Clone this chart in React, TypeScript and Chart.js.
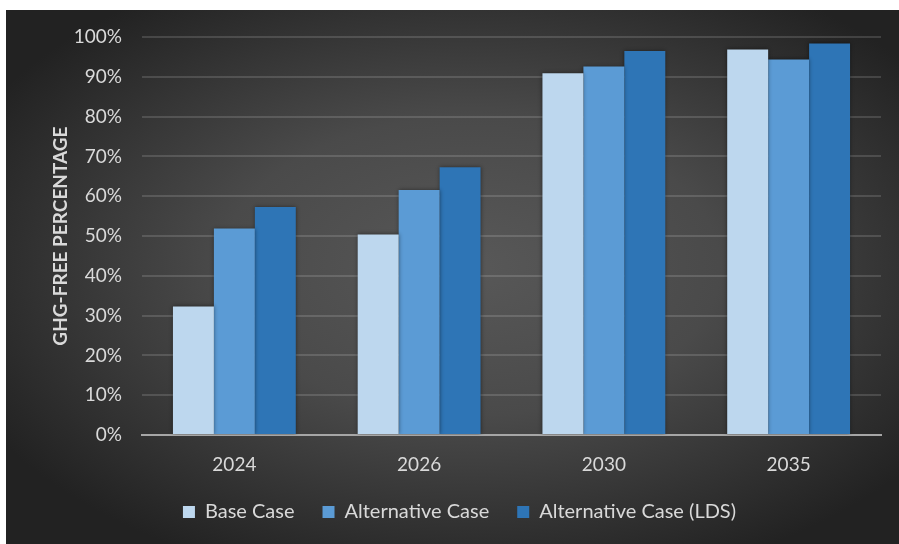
import React, { useEffect, useRef } from "react";
import { Chart, registerables } from "chart.js";

Chart.register(...registerables);

const categories = ["2024", "2026", "2030", "2035"];
const seriesNames = ["Base Case", "Alternative Case", "Alternative Case (LDS)"];
const baseCase = [32.3, 50.4, 90.9, 96.9];
const alternativeCase = [51.9, 61.6, 92.6, 94.4];
const alternativeLDS = [57.3, 67.3, 96.5, 98.4];
const colors = ["#BDD7EE", "#5B9BD5", "#2E75B6"];
const yTitle = "GHG-FREE PERCENTAGE";

const FONT = "Lato, 'Open Sans', sans-serif";

const bgPlugin = {
  id: "bgGradient",
  beforeDraw(chart: any) {
    const { ctx, width, height } = chart;
    ctx.save();
    const cx = width * 0.52;
    const cy = height * 0.48;
    ctx.translate(cx, cy);
    ctx.scale(1, height / width);
    const r = width * 0.62;
    const g = ctx.createRadialGradient(0, 0, 0, 0, 0, r);
    g.addColorStop(0, "#585858");
    g.addColorStop(0.45, "#4a4a4a");
    g.addColorStop(1, "#222222");
    ctx.fillStyle = g;
    ctx.fillRect(-cx, -cy * (width / height), width, width);
    ctx.restore();
  },
};

const shadowPlugin = {
  id: "barShadow",
  beforeDatasetsDraw(chart: any) {
    const ctx = chart.ctx;
    ctx.save();
    ctx.shadowColor = "rgba(0,0,0,0.45)";
    ctx.shadowBlur = 4;
    ctx.shadowOffsetX = 0;
    ctx.shadowOffsetY = 0;
  },
  afterDatasetsDraw(chart: any) {
    chart.ctx.restore();
  },
};

const legendShift = {
  id: "legendShift",
  afterLayout(chart: any) {
    const lg = chart.legend;
    if (lg) {
      lg.left += 16;
      lg.right += 16;
    }
  },
};

export default function App() {
  const ref = useRef<HTMLCanvasElement | null>(null);

  useEffect(() => {
    if (!ref.current) return;
    const seriesData = [baseCase, alternativeCase, alternativeLDS];
    const chart = new Chart(ref.current, {
      type: "bar",
      data: {
        labels: categories,
        datasets: seriesNames.map((name, i) => ({
          label: name,
          data: seriesData[i],
          backgroundColor: colors[i],
          borderWidth: 0,
          categoryPercentage: 0.665,
          barPercentage: 1,
        })),
      },
      options: {
        responsive: false,
        animation: false,
        layout: { padding: { top: 27, right: 18, bottom: 12, left: 0 } },
        plugins: {
          tooltip: { enabled: false },
          legend: {
            position: "bottom",
            labels: {
              color: "#d9d9d9",
              font: { family: FONT, size: 20 },
              boxWidth: 12,
              boxHeight: 12,
              padding: 28,
            },
          },
        },
        scales: {
          x: {
            grid: { display: false, drawTicks: false },
            border: { display: true, color: "#a6a6a6", width: 2 },
            ticks: {
              color: "#d9d9d9",
              font: { family: FONT, size: 19 },
              padding: 18,
            },
            afterFit(scale: any) {
              scale.height = 39;
            },
          },
          y: {
            min: 0,
            max: 100,
            ticks: {
              stepSize: 10,
              color: "#d9d9d9",
              font: { family: FONT, size: 19, lineHeight: 0.75 },
              padding: 20,
              callback: (v: any) => v + "%",
            },
            grid: { color: "rgba(255,255,255,0.14)", lineWidth: 2, drawTicks: false },
            border: { display: false },
            title: {
              display: true,
              text: yTitle,
              color: "#d9d9d9",
              font: { family: FONT, size: 19, weight: "bold" },
              padding: { top: 43, bottom: 0 },
            },
            afterFit(scale: any) {
              scale.width = 136;
            },
          },
        },
      },
      plugins: [bgPlugin, shadowPlugin, legendShift],
    });
    return () => chart.destroy();
  }, []);

  return (
    <div style={{ position: "absolute", left: 0, top: 0, width: 899, height: 544, background: "#ffffff" }}>
      <div style={{ position: "absolute", left: 6, top: 10, width: 893, height: 534 }}>
        <canvas ref={ref} width={893} height={534} style={{ display: "block", width: 893, height: 534 }} />
      </div>
    </div>
  );
}
